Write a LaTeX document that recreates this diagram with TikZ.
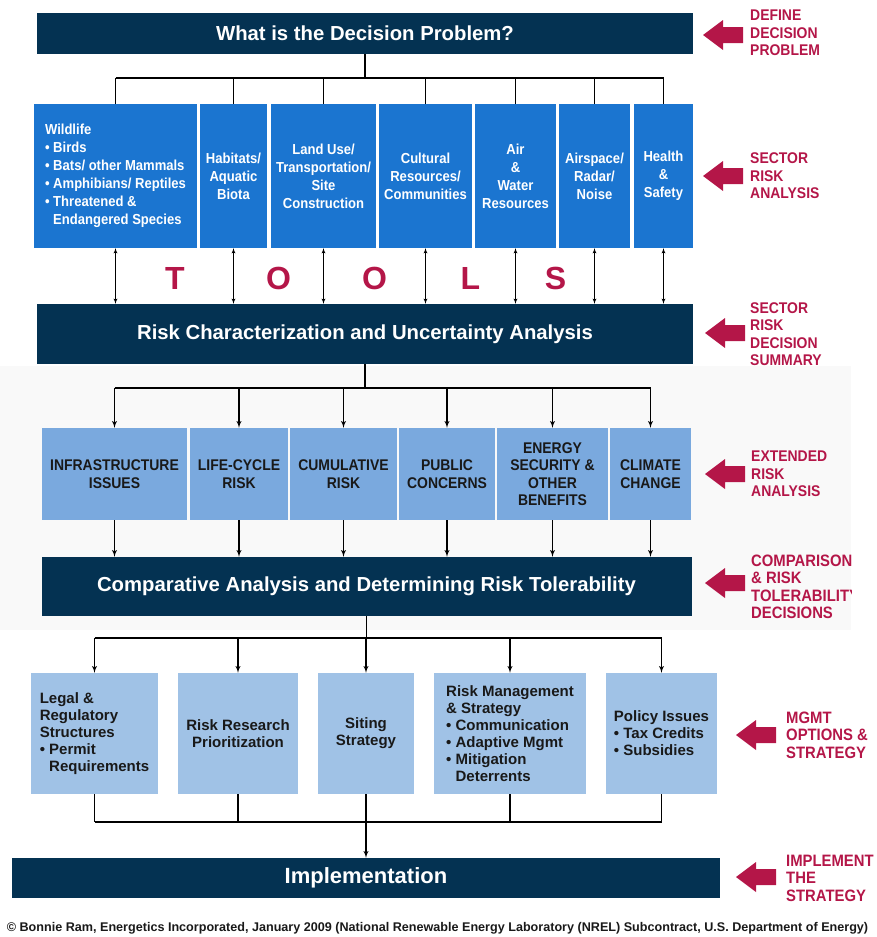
\documentclass[tikz,border=0pt]{standalone}
\usepackage{fontspec}
\setmainfont{Liberation Sans}
\newfontfamily\narrowfont[FakeStretch=0.9]{Liberation Sans}
\usetikzlibrary{arrows}

\definecolor{navy}{RGB}{4,50,82}
\definecolor{sectorblue}{RGB}{27,117,208}
\definecolor{extblue}{RGB}{122,169,222}
\definecolor{paleblue}{RGB}{160,194,230}
\definecolor{crimson}{RGB}{180,22,72}
\definecolor{boxtext}{RGB}{25,25,25}

\begin{document}
\begin{tikzpicture}[x=1pt,y=-1pt,>=latex',line join=bevel,
  bar/.style={fill=navy,text=white,inner sep=0pt,font=\fontsize{20.3}{24}\selectfont\bfseries},
  sector/.style={fill=sectorblue,text=white,inner sep=0pt,minimum height=144pt,align=center,
    font=\narrowfont\fontsize{14.5}{18}\selectfont\bfseries},
  ext/.style={fill=extblue,text=boxtext,inner sep=0pt,minimum height=92pt,align=center,
    font=\narrowfont\fontsize{15.5}{17.5}\selectfont\bfseries},
  mgmt/.style={fill=paleblue,text=boxtext,inner sep=0pt,minimum height=121pt,align=center,
    font=\fontsize{15}{17}\selectfont\bfseries},
  stage/.style={text=crimson,anchor=west,align=left,inner sep=0pt,
    font=\narrowfont\fontsize{15.5}{17.5}\selectfont\bfseries},
  bigstage/.style={stage,font=\narrowfont\fontsize{16.5}{17.5}\selectfont\bfseries},
  letter/.style={text=crimson,inner sep=0pt,font=\fontsize{32}{32}\selectfont\bfseries},
  trunk/.style={line width=1.3pt},
  link/.style={line width=0.8pt,<->},
]
\useasboundingbox (0,0) rectangle (877,937);
\fill[black!2.5] (0,366) rectangle (851,630);

% Node: prob
\node[bar,minimum width=656pt,minimum height=41pt] (prob) at (365,33.5) {What is the Decision Problem?};

% Node: sectors
\node[sector,minimum width=163pt,align=left] (wild) at (115.5,176) {Wildlife\\
  \textbullet\ Birds\\
  \textbullet\ Bats/ other Mammals\\
  \textbullet\ Amphibians/ Reptiles\\
  \textbullet\ Threatened \&\\
  \phantom{\textbullet\ }Endangered Species};
\node[sector,minimum width=67pt] (habit) at (233.5,176) {Habitats/\\Aquatic\\Biota};
\node[sector,minimum width=105pt] (land) at (323.5,176) {Land Use/\\Transportation/\\Site\\Construction};
\node[sector,minimum width=93pt] (cult) at (425.5,176) {Cultural\\Resources/\\Communities};
\node[sector,minimum width=81pt] (air) at (515.5,176) {Air\\\&\\Water\\Resources};
\node[sector,minimum width=71pt] (radar) at (594.5,176) {Airspace/\\Radar/\\Noise};
\node[sector,minimum width=59pt] (health) at (663.5,176) {Health\\\&\\Safety};

% Node: riskchar
\node[bar,minimum width=656pt,minimum height=60pt] (riskchar) at (365,334) {Risk Characterization and Uncertainty Analysis};

% Node: tools
\foreach \x/\l [count=\i] in {175/T,278.5/O,374.5/O,470.5/L,555.5/S}
  \node[letter] (tool\i) at (\x,278) {\l};

% Node: extended
\node[ext,minimum width=145pt] (infra) at (114.5,474) {INFRASTRUCTURE\\ISSUES};
\node[ext,minimum width=98pt] (life) at (239,474) {LIFE-CYCLE\\RISK};
\node[ext,minimum width=107pt] (cumul) at (343.5,474) {CUMULATIVE\\RISK};
\node[ext,minimum width=96pt] (public) at (447,474) {PUBLIC\\CONCERNS};
\node[ext,minimum width=111pt] (energy) at (552.5,474) {ENERGY\\SECURITY \&\\OTHER\\BENEFITS};
\node[ext,minimum width=81pt] (climate) at (650.5,474) {CLIMATE\\CHANGE};

% Node: compar
\node[bar,minimum width=650pt,minimum height=59pt] (compar) at (366.5,586.5) {Comparative Analysis and Determining Risk Tolerability};

% Node: management
\node[mgmt,minimum width=127pt,align=left] (legal) at (94.5,733.5) {Legal \&\\Regulatory\\Structures\\
  \textbullet\ Permit\\
  \phantom{\textbullet\ }Requirements};
\node[mgmt,minimum width=120pt] (research) at (238,733.5) {Risk Research\\Prioritization};
\node[mgmt,minimum width=96pt] (siting) at (366,733.5) {Siting\\Strategy};
\node[mgmt,minimum width=152pt,align=left] (riskmgmt) at (510,733.5) {Risk Management\\\& Strategy\\
  \textbullet\ Communication\\
  \textbullet\ Adaptive Mgmt\\
  \textbullet\ Mitigation\\
  \phantom{\textbullet\ }Deterrents};
\node[mgmt,minimum width=111pt,align=left] (policy) at (661.5,733.5) {Policy Issues\\
  \textbullet\ Tax Credits\\
  \textbullet\ Subsidies};

% Node: impl
\node[bar,minimum width=708pt,minimum height=40pt,font=\fontsize{22}{26}\selectfont\bfseries] (impl) at (366,878) {Implementation};

% Node: stages
\node[stage] (stage1) at (750,33) {DEFINE\\DECISION\\PROBLEM};
\node[stage] (stage2) at (750,176) {SECTOR\\RISK\\ANALYSIS};
\node[stage] (stage3) at (750,334) {SECTOR\\RISK\\DECISION\\SUMMARY};
\node[stage] (stage4) at (751,474) {EXTENDED\\RISK\\ANALYSIS};
\begin{scope}
  \clip (0,366) rectangle (851,630);
  \node[bigstage] (stage5) at (751,587) {COMPARISONS\\\& RISK\\TOLERABILITY\\DECISIONS};
\end{scope}
\node[bigstage] (stage6) at (786,735) {MGMT\\OPTIONS \&\\STRATEGY};
\node[bigstage] (stage7) at (786,878) {IMPLEMENT\\THE\\STRATEGY};

% Stage arrows
\foreach \ax/\ay in {703/35,703/176,705/333,705/474,705/583,736/735,736/877}
  \fill[crimson] (\ax,\ay) -- ++(20,-15) -- ++(0,7) -- ++(20,0) -- ++(0,16) -- ++(-20,0) -- ++(0,7) -- cycle;

% Node: credit
\node[inner sep=0pt,font=\fontsize{12.6}{14}\selectfont\bfseries,text=boxtext] (credit) at (437.5,928)
  {\textcopyright\ Bonnie Ram, Energetics Incorporated, January 2009 (National Renewable Energy Laboratory (NREL) Subcontract, U.S. Department of Energy)};

% Edge: prob -> sectors
\coordinate (j1) at (365,78);
\draw[trunk] (prob.south) -- (j1);
\draw[trunk] (j1 -| wild) -- (j1 -| health);
\foreach \n in {wild,habit,land,cult,air,radar,health}
  \draw[trunk] (j1 -| \n) -- (\n.north);

% Edge: sectors <-> riskchar
\foreach \n in {wild,habit,land,cult,air,radar,health}
  \draw[link] (\n.south) -- (\n.south |- riskchar.north);

% Edge: riskchar -> extended
\coordinate (j2) at (365,388);
\draw[trunk] (riskchar.south) -- (j2);
\draw[trunk] (j2 -| infra) -- (j2 -| climate);
\foreach \n in {infra,life,cumul,public,energy,climate}
  \draw[trunk,->] (j2 -| \n) -- (\n.north);

% Edge: extended -> compar
\foreach \n in {infra,life,cumul,public,energy,climate}
  \draw[trunk,->] (\n.south) -- (\n.south |- compar.north);

% Edge: compar -> management
\coordinate (j3) at (366.5,638);
\draw[trunk] (compar.south) -- (j3);
\draw[trunk] (j3 -| legal) -- (j3 -| policy);
\foreach \n in {legal,research,siting,riskmgmt,policy}
  \draw[trunk,->] (j3 -| \n) -- (\n.north);

% Edge: management -> impl
\coordinate (j4) at (366,822);
\foreach \n in {legal,research,siting,riskmgmt,policy}
  \draw[trunk] (\n.south) -- (\n.south |- j4);
\draw[trunk] (j4 -| legal) -- (j4 -| policy);
\draw[trunk,->] (j4) -- (impl.north);

\end{tikzpicture}
\end{document}
